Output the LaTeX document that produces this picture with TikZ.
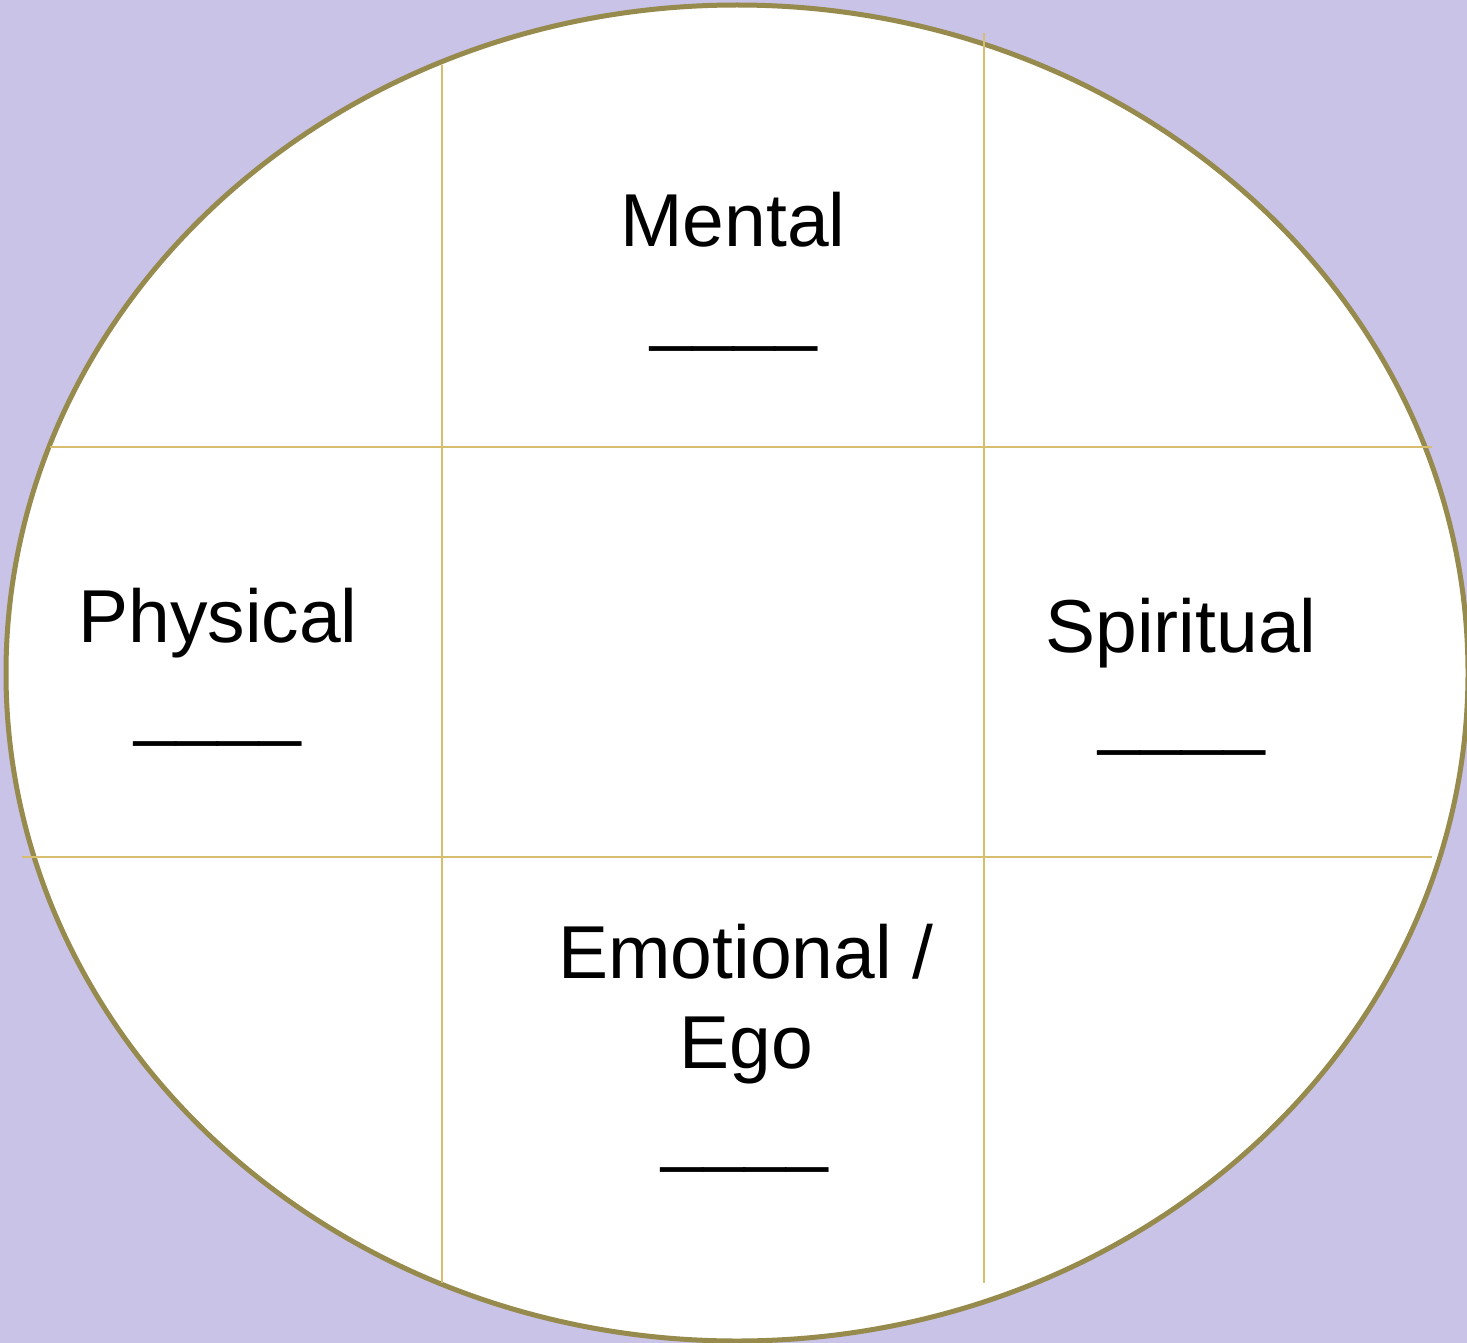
\documentclass[tikz,border=0pt]{standalone}
\usepackage{fontspec}
\setmainfont{Liberation Sans}
\usepackage{tikz}
\definecolor{wheelbg}{HTML}{C9C3E8}
\definecolor{wheelrim}{HTML}{968A4C}
\definecolor{wheelgrid}{HTML}{D6BE6E}
\begin{document}
\begin{tikzpicture}[
  x=1pt, y=-1pt,
  word/.style={font=\fontsize{75}{90}\selectfont, align=center, anchor=base, inner sep=0pt, text=black},
  blank/.style={font=\fontsize{75}{90}\selectfont, anchor=base, inner sep=0pt, text=black},
  rim/.style={draw=wheelrim, line width=5pt, fill=white},
  divider/.style={draw=wheelgrid, line width=2pt}
]
\fill[wheelbg] (0,0) rectangle (1467,1343);
\useasboundingbox (0,0) rectangle (1467,1343);
\path[rim] (737,673) ellipse [x radius=731, y radius=668];
% grid
\draw[divider] (442,65) -- (442,1283);
\draw[divider] (984,33) -- (984,1283);
\draw[divider] (50,447) -- (1432,447);
\draw[divider] (22,857) -- (1432,857);
% labels
\node[word] (mental) at (733,247) {Mental};
\node[blank] (mentalline) at (734,336) {\_\_\_\_};
\node[word] (physical) at (218,642) {Physical};
\node[blank] (physicalline) at (218,731) {\_\_\_\_};
\node[word] (spiritual) at (1181,652) {Spiritual};
\node[blank] (spiritualline) at (1182,740) {\_\_\_\_};
\node[word] (emotional) at (746,1068) {Emotional /\\Ego};
\node[blank] (emotionalline) at (745,1157) {\_\_\_\_};
\end{tikzpicture}
\end{document}
